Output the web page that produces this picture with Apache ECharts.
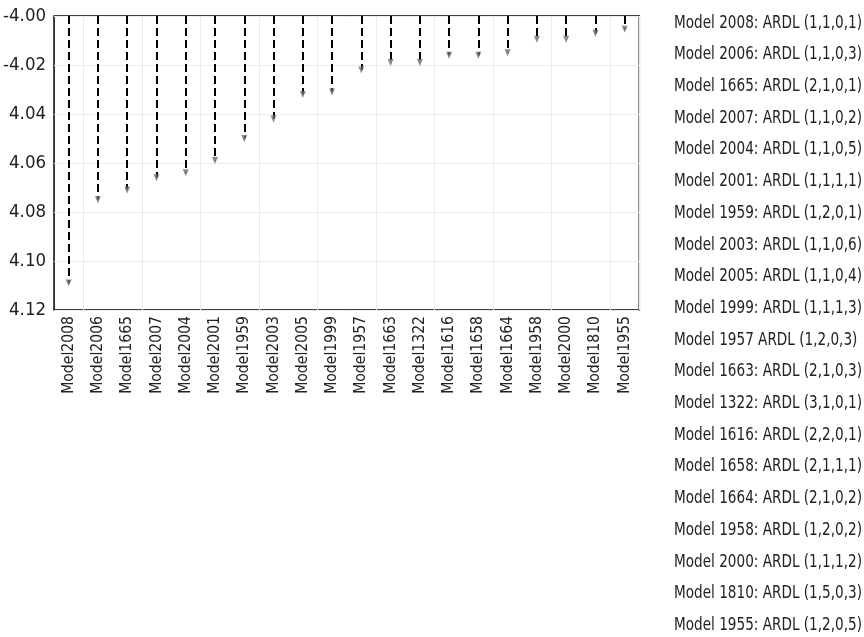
<!DOCTYPE html>
<html>
<head>
<meta charset="utf-8">
<script src="https://cdn.jsdelivr.net/npm/echarts@6/dist/echarts.min.js"></script>
<style>html,body{margin:0;padding:0;background:#fff;}#c{width:864px;height:637px;}</style>
</head>
<body>
<div id="c"></div>
<script>
var categories = ["Model2008","Model2006","Model1665","Model2007","Model2004","Model2001","Model1959","Model2003","Model2005","Model1999","Model1957","Model1663","Model1322","Model1616","Model1658","Model1664","Model1958","Model2000","Model1810","Model1955"];
var values = [-4.109,-4.075,-4.071,-4.066,-4.064,-4.059,-4.050,-4.042,-4.032,-4.031,-4.022,-4.019,-4.019,-4.016,-4.016,-4.015,-4.0095,-4.0095,-4.007,-4.0054];
var baseline = -4.00;
var yTickLabels = ["-4.00","-4.02","4.04","4.06","4.08","4.10","4.12"];
var legendLines = ["Model 2008: ARDL (1,1,0,1)","Model 2006: ARDL (1,1,0,3)","Model 1665: ARDL (2,1,0,1)","Model 2007: ARDL (1,1,0,2)","Model 2004: ARDL (1,1,0,5)","Model 2001: ARDL (1,1,1,1)","Model 1959: ARDL (1,2,0,1)","Model 2003: ARDL (1,1,0,6)","Model 2005: ARDL (1,1,0,4)","Model 1999: ARDL (1,1,1,3)","Model 1957 ARDL (1,2,0,3)","Model 1663: ARDL (2,1,0,3)","Model 1322: ARDL (3,1,0,1)","Model 1616: ARDL (2,2,0,1)","Model 1658: ARDL (2,1,1,1)","Model 1664: ARDL (2,1,0,2)","Model 1958: ARDL (1,2,0,2)","Model 2000: ARDL (1,1,1,2)","Model 1810: ARDL (1,5,0,3)","Model 1955: ARDL (1,2,0,5)"];

var FONT = "'DejaVu Sans Condensed', sans-serif";
var chart = echarts.init(document.getElementById('c'), null, {renderer: 'canvas'});

var lineData = categories.map(function (c, i) {
  return {coords: [[i, baseline], [i, values[i]]]};
});
var pointData = categories.map(function (c, i) { return [i, values[i]]; });

var legendGraphics = legendLines.map(function (t, i) {
  return {
    type: 'text',
    x: 674,
    y: 23 + 31.7 * i,
    scaleX: 0.84,
    silent: true,
    style: {text: t, fontFamily: FONT, fontSize: 18, fill: '#222', verticalAlign: 'middle', align: 'left'}
  };
});

chart.setOption({
  animation: false,
  backgroundColor: '#fff',
  graphic: legendGraphics,
  grid: {left: 52.5, right: 224.7, top: 16, bottom: 327, show: true, borderColor: '#000', borderWidth: 1.5, backgroundColor: 'transparent'},
  xAxis: {
    type: 'category',
    data: categories,
    boundaryGap: true,
    axisLine: {show: false},
    axisTick: {show: false},
    axisLabel: {rotate: 90, fontFamily: FONT, fontSize: 15.6, color: '#222', margin: 6, interval: 0},
    splitLine: {show: true, interval: function (i) { return i % 2 === 1; }, lineStyle: {color: '#ebebeb', width: 1}}
  },
  yAxis: {
    type: 'value',
    min: -4.12,
    max: -4.00,
    interval: 0.02,
    axisLine: {show: false},
    axisTick: {show: false},
    axisLabel: {
      fontFamily: FONT, fontSize: 18.5, color: '#222', margin: 8,
      formatter: function (v) { var k = Math.round((baseline - v) / 0.02); return yTickLabels[k] || ''; }
    },
    splitLine: {show: true, lineStyle: {color: '#ebebeb', width: 1}}
  },
  series: [
    {
      type: 'lines',
      coordinateSystem: 'cartesian2d',
      data: lineData,
      symbol: 'none',
      lineStyle: {color: '#000', width: 2, type: [8, 4], opacity: 1},
      z: 3
    },
    {
      type: 'scatter',
      data: pointData,
      symbol: 'triangle',
      symbolRotate: 180,
      symbolSize: [6, 7],
      itemStyle: {color: '#6d6d6d'},
      z: 4
    }
  ]
});
</script>
</body>
</html>
